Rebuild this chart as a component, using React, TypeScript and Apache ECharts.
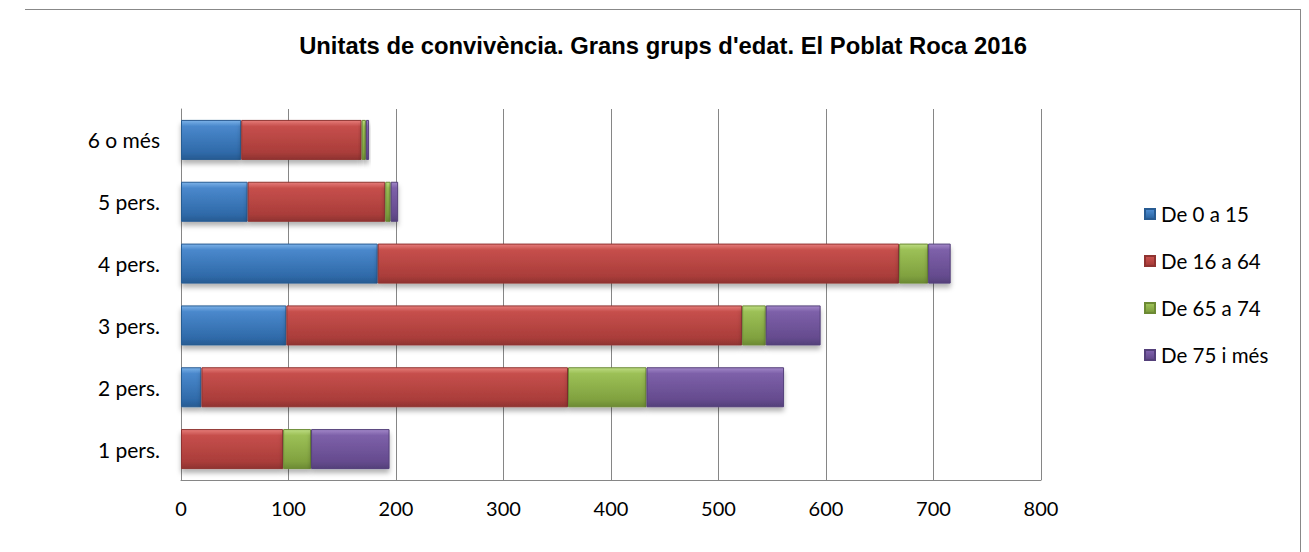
import React, { useEffect, useRef } from "react";
import * as echarts from "echarts";

const categories = ["1 pers.", "2 pers.", "3 pers.", "4 pers.", "5 pers.", "6 o més"];
const seriesNames = ["De 0 a 15", "De 16 a 64", "De 65 a 74", "De 75 i més"];
const age0to15 = [0, 19, 98, 183, 62, 56];
const age16to64 = [95, 341, 424, 485, 128, 112];
const age65to74 = [26, 73, 22, 27, 5, 4];
const age75plus = [73, 128, 51, 21, 7, 3];
const xTicks = [0, 100, 200, 300, 400, 500, 600, 700, 800];

const palettes = [
  ["#7cb2e8", "#4a88cc", "#2f6aa9", "#285b92"],
  ["#e67d7a", "#c64f4c", "#aa3d3a", "#8f3331"],
  ["#bddc82", "#9cc056", "#80a13f", "#6c8a34"],
  ["#a287c8", "#7d60a9", "#654b8e", "#54407a"],
];

const FONT = "Lato, 'Open Sans', sans-serif";

export default function App() {
  const ref = useRef<HTMLDivElement>(null);
  useEffect(() => {
    if (!ref.current) return;
    const chart = echarts.init(ref.current, null, { renderer: "svg" });
    const values = [age0to15, age16to64, age65to74, age75plus];
    chart.setOption({
      animation: false,
      backgroundColor: "#ffffff",
      title: {
        text: "Unitats de convivència. Grans grups d'edat. El Poblat Roca 2016",
        left: 663,
        textAlign: "center",
        top: 33,
        padding: 0,
        textStyle: { fontFamily: "Arial, 'Liberation Sans', sans-serif", fontSize: 23.8, fontWeight: "bold", color: "#000" },
      },
      legend: {
        orient: "vertical",
        left: 1144,
        top: 202,
        padding: 0,
        itemWidth: 10,
        itemHeight: 10,
        itemGap: 23,
        icon: "rect",
        data: seriesNames,
        textStyle: { fontFamily: FONT, fontSize: 20.5, color: "#000", lineHeight: 24, padding: [0, 0, 0, 1] },
      },
      grid: { left: 181, right: 268, top: 109, bottom: 72, containLabel: false },
      xAxis: {
        type: "value",
        min: xTicks[0],
        max: xTicks[xTicks.length - 1],
        interval: 100,
        axisLine: { show: true, lineStyle: { color: "#868686" } },
        axisTick: { show: false },
        axisLabel: { fontFamily: FONT, fontSize: 20, color: "#000", margin: 18 },
        splitLine: { show: true, lineStyle: { color: "#868686", width: 1 } },
      },
      yAxis: {
        type: "category",
        data: categories,
        axisLine: { show: true, lineStyle: { color: "#868686" } },
        axisTick: { show: false },
        axisLabel: { fontFamily: FONT, fontSize: 21, color: "#000", margin: 21 },
      },
      graphic: [
        { type: "line", shape: { x1: 25, y1: 9.5, x2: 1301, y2: 9.5 }, style: { stroke: "#888", lineWidth: 1 } },
        { type: "line", shape: { x1: 1300.5, y1: 9, x2: 1300.5, y2: 552 }, style: { stroke: "#888", lineWidth: 1 } },
      ],
      series: seriesNames.map((name, i) => ({
        name,
        type: "bar",
        stack: "total",
        barWidth: 40,
        data: values[i],
        itemStyle: {
          color: new echarts.graphic.LinearGradient(0, 0, 0, 1, [
            { offset: 0, color: palettes[i][0] },
            { offset: 0.15, color: palettes[i][1] },
            { offset: 0.82, color: palettes[i][2] },
            { offset: 1, color: palettes[i][3] },
          ]),
          borderColor: palettes[i][3],
          borderWidth: 1,
          shadowBlur: 5,
          shadowOffsetY: 4,
          shadowColor: "rgba(0,0,0,0.3)",
        },
      })),
    });
    return () => chart.dispose();
  }, []);
  return <div ref={ref} style={{ position: "absolute", left: 0, top: 0, width: 1309, height: 552 }} />;
}
